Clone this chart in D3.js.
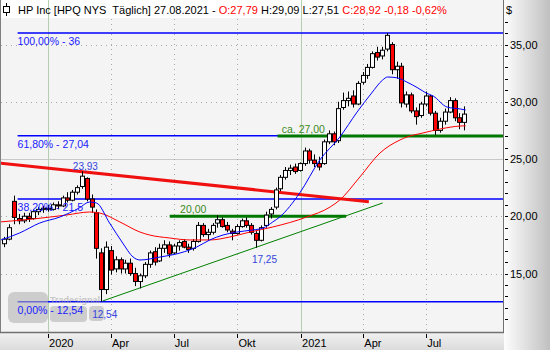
<!DOCTYPE html>
<html lang="de">
<head>
<meta charset="UTF-8">
<title>HP Inc [HPQ NYS Täglich]</title>
<script src="https://d3js.org/d3.v7.min.js"></script>
<style>
  body { margin: 0; background: #fff; }
  svg { display: block; font-family: "Liberation Sans", Arial, sans-serif; }
</style>
</head>
<body>
<svg width="550" height="350"></svg>
<script>
// Kopfzeile
const headerParts = [
  ["HP Inc [HPQ NYS  Täglich] 27.08.2021 - ", "#000"],
  ["O:27,79", "#ff0000"],
  [" H:29,09 L:27,51 ", "#000"],
  ["C:28,92 -0,18 -0,62%", "#ff0000"]
];

// Wochenkerzen ab Montag 28.10.2019, [Open, High, Low, Close]
const firstWeek = "2019-10-28", lastWeekEnd = "2021-08-24";
const ohlc = [
  [17.6,18.2,17.3,18.0],[18.0,19.3,17.9,19.0],[21.3,21.8,19.3,19.9],[19.8,20.2,19.3,19.6],
  [19.6,20.3,19.4,20.0],[20.0,20.3,19.5,19.8],[19.8,20.6,19.7,20.4],[20.4,20.8,20.1,20.6],
  [20.6,20.9,20.3,20.7],[20.7,21.0,20.4,20.6],[20.6,21.2,20.5,21.0],[21.0,21.3,20.6,20.9],
  [20.9,21.8,20.8,21.6],[21.6,22.1,21.2,21.4],[21.4,22.3,21.3,22.1],[22.1,22.7,21.9,22.5],
  [22.6,23.93,22.4,23.5],[23.3,23.4,21.3,21.5],[21.5,21.9,20.3,20.8],[20.3,20.6,16.3,17.2],
  [16.8,17.2,12.54,13.6],[13.6,17.8,13.2,17.3],[17.0,17.4,14.9,15.3],[15.4,16.5,15.1,16.2],
  [16.2,16.4,15.0,15.4],[15.4,16.2,15.0,15.9],[15.9,16.3,14.8,15.0],[15.0,15.5,13.9,14.3],
  [14.3,15.0,13.7,14.8],[14.8,16.0,14.6,15.8],[15.8,17.0,15.5,16.8],[16.9,17.3,15.7,16.0],
  [16.1,17.6,16.0,17.2],[17.2,17.9,16.8,17.5],[17.5,17.8,16.4,16.7],[16.8,17.6,16.7,17.4],
  [17.4,17.9,17.0,17.7],[17.8,18.0,17.2,17.3],[17.3,17.6,16.8,17.1],[17.2,18.0,17.0,17.8],
  [17.8,19.5,17.7,19.2],[19.2,19.4,18.2,18.4],[18.4,18.9,17.9,18.6],[18.6,19.4,18.4,19.2],
  [19.4,20.1,19.0,19.7],[19.7,19.9,19.0,19.1],[19.2,19.5,18.6,18.8],[18.7,18.9,17.9,18.5],
  [18.5,19.3,18.4,19.1],[19.1,19.8,19.0,19.6],[19.6,19.9,19.0,19.2],[19.2,19.4,18.4,18.6],
  [18.5,18.7,17.25,17.9],[17.9,19.2,17.8,19.0],[19.2,20.4,19.0,20.1],[20.2,20.8,19.8,20.6],
  [20.8,22.5,20.6,22.3],[22.4,23.6,22.2,23.4],[23.4,24.3,23.2,24.0],[24.0,24.5,23.6,24.2],
  [24.3,24.6,23.7,23.9],[24.0,24.7,23.9,24.6],[24.6,26.0,24.4,25.7],[25.7,25.9,24.6,24.9],
  [24.9,25.4,24.3,24.6],[24.6,25.2,24.0,24.3],[24.6,26.7,24.5,26.5],[26.5,27.5,26.3,27.2],
  [27.2,27.4,26.2,26.5],[26.6,30.0,26.4,29.4],[29.5,30.8,29.3,30.1],[30.1,30.9,29.6,30.3],
  [30.5,31.0,29.5,29.8],[29.8,31.8,29.7,31.6],[31.7,32.6,31.5,32.3],[32.3,33.3,32.0,33.0],
  [33.0,34.4,32.9,34.2],[34.3,34.8,33.6,33.9],[34.0,34.8,33.7,34.5],[34.6,36.0,34.4,35.8],
  [35.0,35.2,32.4,32.8],[32.8,33.5,32.0,33.1],[33.1,33.4,29.5,29.9],[29.8,30.9,29.5,30.6],
  [30.6,30.8,29.0,29.2],[29.2,29.5,28.0,28.7],[28.8,30.0,28.6,29.8],[29.8,30.9,29.6,30.5],
  [30.5,30.6,28.8,29.0],[29.0,29.2,27.1,27.5],[27.5,28.6,27.3,28.3],[28.3,29.4,28.0,29.1],
  [29.1,30.4,29.0,30.1],[30.1,30.3,28.3,28.6],[28.6,29.0,27.6,28.2],[28.2,29.6,27.5,28.92]
];

// gleitende Durchschnitte
const blueMA = [
  ["2019-10-25",17.93],["2019-11-21",18.54],["2019-12-20",19.41],["2020-01-18",19.93],
  ["2020-02-15",20.72],["2020-03-01",21.24],["2020-03-11",21.16],["2020-03-30",19.41],
  ["2020-04-18",17.66],["2020-05-03",16.44],["2020-05-13",16.18],["2020-06-11",16.44],
  ["2020-07-10",16.79],["2020-08-03",17.31],["2020-08-22",17.93],["2020-09-10",18.36],
  ["2020-09-30",18.62],["2020-10-23",18.80],["2020-11-07",18.97],["2020-11-21",19.50],
  ["2020-12-01",19.93],["2020-12-30",22.03],["2021-01-28",24.91],["2021-02-26",26.92],
  ["2021-03-23",29.10],["2021-04-13",30.76],["2021-04-29",31.90],["2021-05-06",32.16],
  ["2021-05-19",32.10],["2021-06-03",31.72],["2021-06-19",31.20],["2021-07-01",30.76],
  ["2021-07-11",30.50],["2021-07-31",29.54],["2021-08-19",29.37],["2021-08-27",29.28]
];
const redMA = [
  ["2019-10-23",19.50],["2019-12-10",19.76],["2020-01-28",20.11],["2020-03-01",20.37],
  ["2020-03-16",20.28],["2020-04-14",19.50],["2020-05-13",18.62],["2020-05-27",18.36],
  ["2020-06-25",18.10],["2020-07-24",17.93],["2020-08-22",17.93],["2020-09-20",18.19],
  ["2020-10-19",18.62],["2020-11-21",19.06],["2021-01-09",19.93],["2021-02-12",20.81],
  ["2021-02-26",21.42],["2021-03-27",23.43],["2021-04-25",25.52],["2021-05-24",26.66],
  ["2021-06-03",26.92],["2021-06-26",27.27],["2021-07-21",27.62],["2021-08-19",27.88],
  ["2021-08-27",27.90]
];

// Fibonacci-Retracements
const fibStart = "2019-11-18";
const fibLevels = [36, 27.04, 21.5, 12.54];
const fibLabels = ["100,00% - 36", "61,80% - 27,04", "38,20% - 21,5", "0,00% - 12,54"];

// Trendlinien
const redTrend = [["2019-10-23",24.65],["2021-04-09",21.27]];
const greenTrend = [["2020-03-20",12.6],["2021-04-29",21.16]];
const supportFrom = ["2020-06-25","2020-11-28"];
const supportTo = ["2021-03-07","2021-10-20"];
const supportLevels = [20.0, 27.0];
const supportLabels = ["20,00", "ca. 27,00"];
const supportLabelAt = ["2020-07-10", "2020-12-04"];

// Punktbeschriftungen
const pointDates = ["2020-02-24","2020-11-09","2020-03-23"];
const pointPrices = [23.93, 17.25, 12.54];
const pointTexts = ["23,93", "17,25", "12,54"];
const pointDy = [-1, 15, 16];

// Achsen
const majorTicks = [35, 30, 25, 20, 15];
const timeTicks = ["2020-01-01","2020-04-01","2020-07-01","2020-10-01","2021-01-01","2021-04-01","2021-07-01"];
const timeLabels = ["2020","Apr","Jul","Okt","2021","Apr","Jul"];

const svg = d3.select("svg");
const W = 550, H = 350;
const plot = {left: 1, right: 503, top: 0, bottom: 332};
const parse = d3.utcParse("%Y-%m-%d");

const x = d3.scaleUtc()
  .domain([parse("2019-10-25"), parse("2021-10-20")])
  .range([plot.left, plot.right]);
const y = d3.scaleLinear().domain([15, 35]).range([273.5, 44.5]);

const defs = svg.append("defs");
const gR = defs.append("linearGradient").attr("id", "gR").attr("x1", 0).attr("x2", 1).attr("y1", 0).attr("y2", 0);
gR.append("stop").attr("offset", 0).attr("stop-color", "#fdfdfd");
gR.append("stop").attr("offset", 1).attr("stop-color", "#c0c0c0");
const gB = defs.append("linearGradient").attr("id", "gB").attr("x1", 0).attr("x2", 0).attr("y1", 0).attr("y2", 1);
gB.append("stop").attr("offset", 0).attr("stop-color", "#f0f0f0");
gB.append("stop").attr("offset", 1).attr("stop-color", "#dcdcdc");
defs.append("clipPath").attr("id", "clip").append("rect")
  .attr("x", plot.left).attr("y", plot.top)
  .attr("width", plot.right - plot.left).attr("height", plot.bottom - plot.top);

// Hintergrund
svg.append("rect").attr("width", W).attr("height", H).attr("fill", "#f4f4f4");
svg.append("rect").attr("x", 504).attr("y", 0).attr("width", 46).attr("height", H).attr("fill", "url(#gR)");
svg.append("rect").attr("x", 0).attr("y", 333).attr("width", 504).attr("height", 17).attr("fill", "url(#gB)");
svg.append("rect").attr("x", 0).attr("y", 0).attr("width", 438).attr("height", 18).attr("fill", "#fff");

const g = svg.append("g").attr("clip-path", "url(#clip)");

// Gitter
g.selectAll(".hgrid").data(majorTicks.filter(d => d !== 25)).enter().append("line")
  .attr("x1", plot.left).attr("x2", plot.right)
  .attr("y1", d => Math.round(y(d)) + 0.5).attr("y2", d => Math.round(y(d)) + 0.5)
  .attr("stroke", "#a8a8a8").attr("stroke-dasharray", "1,4");
g.append("line")
  .attr("x1", plot.left).attr("x2", plot.right)
  .attr("y1", Math.round(y(25)) + 0.5).attr("y2", Math.round(y(25)) + 0.5)
  .attr("stroke", "#c8c8c8");
g.selectAll(".vgrid").data(timeTicks).enter().append("line")
  .attr("x1", d => Math.round(x(parse(d))) + 0.5).attr("x2", d => Math.round(x(parse(d))) + 0.5)
  .attr("y1", d => d.endsWith("01-01") ? 0 : 19).attr("y2", plot.bottom)
  .attr("stroke", d => d.endsWith("01-01") ? "#b4cfb0" : "#a8a8a8")
  .attr("stroke-dasharray", d => d.endsWith("01-01") ? null : "1,4");

// Fibonacci-Linien
g.selectAll(".fib").data(fibLevels).enter().append("line")
  .attr("x1", x(parse(fibStart))).attr("x2", plot.right)
  .attr("y1", d => y(d)).attr("y2", d => y(d))
  .attr("stroke", "#0000ff").attr("stroke-width", 1.5);

// Unterstuetzungen
supportLevels.forEach((lv, i) => {
  g.append("line")
    .attr("x1", x(parse(supportFrom[i]))).attr("x2", x(parse(supportTo[i])))
    .attr("y1", y(lv)).attr("y2", y(lv))
    .attr("stroke", "#007800").attr("stroke-width", 3);
});

// Trendlinien
const tl = d3.line().x(d => x(parse(d[0]))).y(d => y(d[1]));
g.append("path").attr("d", tl(greenTrend)).attr("fill", "none").attr("stroke", "#008000").attr("stroke-width", 1);
g.append("path").attr("d", tl(redTrend)).attr("fill", "none").attr("stroke", "#f01010").attr("stroke-width", 3);

// Kerzen
const weeks = d3.utcMonday.range(parse(firstWeek), parse(lastWeekEnd));
const candles = weeks.map((w, i) => ({date: d3.utcDay.offset(w, 2), o: ohlc[i][0], h: ohlc[i][1], l: ohlc[i][2], c: ohlc[i][3]}));
const cg = g.selectAll(".candle").data(candles).enter().append("g");
cg.append("line")
  .attr("x1", d => Math.round(x(d.date)) + 0.5).attr("x2", d => Math.round(x(d.date)) + 0.5)
  .attr("y1", d => y(d.h)).attr("y2", d => y(d.l))
  .attr("stroke", "#000").attr("stroke-width", 1);
cg.append("rect")
  .attr("x", d => Math.round(x(d.date)) - 1.5)
  .attr("y", d => y(Math.max(d.o, d.c)))
  .attr("width", 4)
  .attr("height", d => Math.max(1, Math.abs(y(d.o) - y(d.c))))
  .attr("fill", d => d.c >= d.o ? "#fff" : "#ff0000")
  .attr("stroke", "#000").attr("stroke-width", 1);

// Durchschnitte
const ml = d3.line().x(d => x(parse(d[0]))).y(d => y(d[1])).curve(d3.curveMonotoneX);
g.append("path").attr("d", ml(redMA)).attr("fill", "none").attr("stroke", "#ff0000").attr("stroke-width", 1);
g.append("path").attr("d", ml(blueMA)).attr("fill", "none").attr("stroke", "#0000ff").attr("stroke-width", 1);

// Tradesignal-Logo (Wasserzeichen)
const logo = svg.append("g").attr("opacity", 0.6);
logo.append("rect").attr("x", 8).attr("y", 292).attr("width", 40).attr("height", 31).attr("rx", 6).attr("fill", "#b4b4b4");
logo.append("rect").attr("x", 50).attr("y", 306).attr("width", 37).attr("height", 16).attr("rx", 4).attr("fill", "#b4b4b4");
logo.append("rect").attr("x", 89).attr("y", 306).attr("width", 15).attr("height", 15).attr("rx", 4).attr("fill", "#b4b4b4");
logo.append("text").attr("x", 50).attr("y", 303).attr("font-size", 9).attr("font-weight", "bold").attr("fill", "#a8a8a8").text("Tradesignal");

// Beschriftungen
svg.selectAll(".fibLabel").data(fibLevels).enter().append("text")
  .attr("x", x(parse(fibStart)))
  .attr("y", d => y(d) + 12)
  .attr("font-size", 10.5).attr("fill", "#1a1aff")
  .text((d, i) => fibLabels[i]);

supportLevels.forEach((lv, i) => {
  svg.append("text")
    .attr("x", x(parse(supportLabelAt[i]))).attr("y", y(lv) - 3)
    .attr("font-size", 10.5).attr("fill", "#3d8a1e")
    .text(supportLabels[i]);
});

pointDates.forEach((dt, i) => {
  svg.append("text")
    .attr("x", x(parse(dt))).attr("y", y(pointPrices[i]) + pointDy[i])
    .attr("text-anchor", "middle").attr("font-size", 10).attr("fill", "#3344dd")
    .text(pointTexts[i]);
});

// Rahmen und Achsen
svg.append("line").attr("x1", 0.5).attr("x2", 0.5).attr("y1", 0).attr("y2", 333).attr("stroke", "#808080");
svg.append("line").attr("x1", 503.5).attr("x2", 503.5).attr("y1", 0).attr("y2", 333).attr("stroke", "#707070");
svg.append("line").attr("x1", 0).attr("x2", 504).attr("y1", 332.5).attr("y2", 332.5).attr("stroke", "#707070").attr("stroke-width", 1.5);

// Y-Achse rechts
const minor = d3.range(11, 38);
svg.selectAll(".ytick").data(minor).enter().append("line")
  .attr("x1", 505).attr("x2", 508)
  .attr("y1", d => Math.round(y(d)) + 0.5).attr("y2", d => Math.round(y(d)) + 0.5)
  .attr("stroke", "#000");
svg.selectAll(".ylab").data(majorTicks).enter().append("text")
  .attr("x", 510).attr("y", d => y(d) + 4)
  .attr("font-size", 11).attr("fill", "#000")
  .text(d => d3.format(".2f")(d).replace(".", ","));
svg.append("text").attr("x", 506).attr("y", 14).attr("font-size", 11).attr("fill", "#000").text("$");

// X-Achse unten
svg.selectAll(".xtick").data(timeTicks).enter().append("line")
  .attr("x1", d => Math.round(x(parse(d))) + 0.5).attr("x2", d => Math.round(x(parse(d))) + 0.5)
  .attr("y1", 334).attr("y2", 338).attr("stroke", "#000");
svg.selectAll(".xlab").data(timeTicks).enter().append("text")
  .attr("x", d => x(parse(d)) + 1).attr("y", 347)
  .attr("font-size", 11).attr("fill", "#000")
  .text((d, i) => timeLabels[i]);

// Kopfzeile
const icon = svg.append("g");
icon.append("line").attr("x1", 6.5).attr("x2", 6.5).attr("y1", 3).attr("y2", 16).attr("stroke", "#000");
icon.append("rect").attr("x", 3.5).attr("y", 6.5).attr("width", 6).attr("height", 6).attr("fill", "#fff").attr("stroke", "#000");
const ht = svg.append("text").attr("x", 18).attr("y", 14).attr("font-size", 11).style("white-space", "pre");
headerParts.forEach(p => ht.append("tspan").attr("fill", p[1]).text(p[0]));
</script>
</body>
</html>
